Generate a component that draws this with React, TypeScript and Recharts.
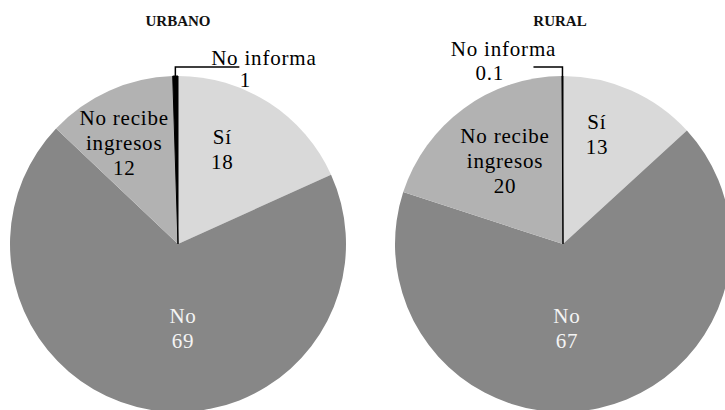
import React from 'react';
import { PieChart, Pie, Cell } from 'recharts';

// ---- data ----
const CATEGORIES = ['Sí', 'No', 'No recibe ingresos', 'No informa'];
const CATEGORY_LINES = [['Sí'], ['No'], ['No recibe', 'ingresos'], ['No informa']];
const URBANO_VALUES = [18.2, 68.7, 12.4, 0.5];
const RURAL_VALUES = [13.2, 66.8, 19.9, 0.1];
const TITLES = ['URBANO', 'RURAL'];

// ---- styles ----
const COLORS = ['#d9d9d9', '#878787', '#b2b2b2', '#000000'];
const TEXT_COLORS = ['#000000', '#f4f4f4', '#000000', '#000000'];
const FONT = 'Liberation Serif';
const FS = 21;
const LH = 25;
const BASE = 7; // from visual centre to baseline
const R = 168;
const CY = 244;
const CX_URBANO = 178;
const CX_RURAL = 563;

// label placement: clock angle (deg from top, clockwise) and radius fraction
const URBANO_PLACE = [
  { a: 25, r: 0.623 },
  { a: 176.6, r: 0.503 },
  { a: 331.9, r: 0.68 },
];
const RURAL_PLACE = [
  { a: 17.2, r: 0.683 },
  { a: 177.3, r: 0.503 },
  { a: 325.1, r: 0.603 },
];
// callout for the small slice: horizontal direction/length, text offsets from line end
const URBANO_CALLOUT = { rise: 9, len: 64, name: { dx: 24.5, dy: -9 }, val: { dx: 6, dy: 13 } };
const RURAL_CALLOUT = { rise: 9, len: -29, name: { dx: -30, dy: -18 }, val: { dx: -43.7, dy: 6.4 } };

const fmt = (v: number) => (v >= 0.5 ? String(Math.round(v)) : String(v));
const RAD = Math.PI / 180;

function Txt({ x, y, fill, children }: any) {
  return (
    <text x={x} y={y + BASE} textAnchor="middle" fill={fill} style={{ fontFamily: FONT, fontSize: FS, letterSpacing: 0.8 }}>
      {children}
    </text>
  );
}

function makeLabel(place: any[], callout: any) {
  return (props: any) => {
    const { cx, cy, midAngle, outerRadius, index, value } = props;
    if (index === 3) {
      const sx = cx + outerRadius * Math.cos(midAngle * RAD);
      const sy = cy - outerRadius * Math.sin(midAngle * RAD);
      const ty = cy - outerRadius - callout.rise;
      const ex = sx + callout.len;
      return (
        <g key={`lbl-${index}`}>
          <polyline points={`${sx},${sy} ${sx},${ty} ${ex},${ty}`} fill="none" stroke="#000" strokeWidth={1.5} />
          <Txt x={ex + callout.name.dx} y={ty + callout.name.dy} fill="#000">{CATEGORY_LINES[index][0]}</Txt>
          <Txt x={ex + callout.val.dx} y={ty + callout.val.dy} fill="#000">{fmt(value)}</Txt>
        </g>
      );
    }
    const p = place[index];
    const x = cx + outerRadius * p.r * Math.sin(p.a * RAD);
    const y = cy - outerRadius * p.r * Math.cos(p.a * RAD);
    const lines = [...CATEGORY_LINES[index], fmt(value)];
    const n = lines.length;
    return (
      <g key={`lbl-${index}`}>
        {lines.map((t, i) => (
          <Txt key={i} x={x} y={y + (i - (n - 1) / 2) * LH} fill={TEXT_COLORS[index]}>{t}</Txt>
        ))}
      </g>
    );
  };
}

const urbanoData = CATEGORIES.map((name, i) => ({ name, value: URBANO_VALUES[i] }));
const ruralData = CATEGORIES.map((name, i) => ({ name, value: RURAL_VALUES[i] }));

export default function App() {
  return (
    <div style={{ position: 'absolute', left: 0, top: 0, width: 725, height: 410, background: '#fff', overflow: 'hidden' }}>
      <PieChart width={725} height={410} margin={{ top: 0, right: 0, bottom: 0, left: 0 }}>
        <Pie
          data={urbanoData}
          dataKey="value"
          nameKey="name"
          cx={CX_URBANO}
          cy={CY}
          outerRadius={R}
          startAngle={90}
          endAngle={-270}
          isAnimationActive={false}
          labelLine={false}
          label={makeLabel(URBANO_PLACE, URBANO_CALLOUT)}
        >
          {urbanoData.map((d, i) => (
            <Cell key={d.name} fill={COLORS[i]} stroke={i === 3 ? '#000' : 'none'} strokeWidth={i === 3 ? 1 : 0} />
          ))}
        </Pie>
        <Pie
          data={ruralData}
          dataKey="value"
          nameKey="name"
          cx={CX_RURAL}
          cy={CY}
          outerRadius={R}
          startAngle={90}
          endAngle={-270}
          isAnimationActive={false}
          labelLine={false}
          label={makeLabel(RURAL_PLACE, RURAL_CALLOUT)}
        >
          {ruralData.map((d, i) => (
            <Cell key={d.name} fill={COLORS[i]} stroke={i === 3 ? '#000' : 'none'} strokeWidth={i === 3 ? 1 : 0} />
          ))}
        </Pie>
      </PieChart>
      <svg width={725} height={410} style={{ position: 'absolute', left: 0, top: 0, pointerEvents: 'none' }}>
        {[CX_URBANO, CX_RURAL - 3].map((x, i) => (
          <text key={TITLES[i]} x={x} y={25.5} textAnchor="middle" fill="#111" style={{ fontFamily: FONT, fontSize: 15, fontWeight: 'bold' }}>
            {TITLES[i]}
          </text>
        ))}
      </svg>
    </div>
  );
}
